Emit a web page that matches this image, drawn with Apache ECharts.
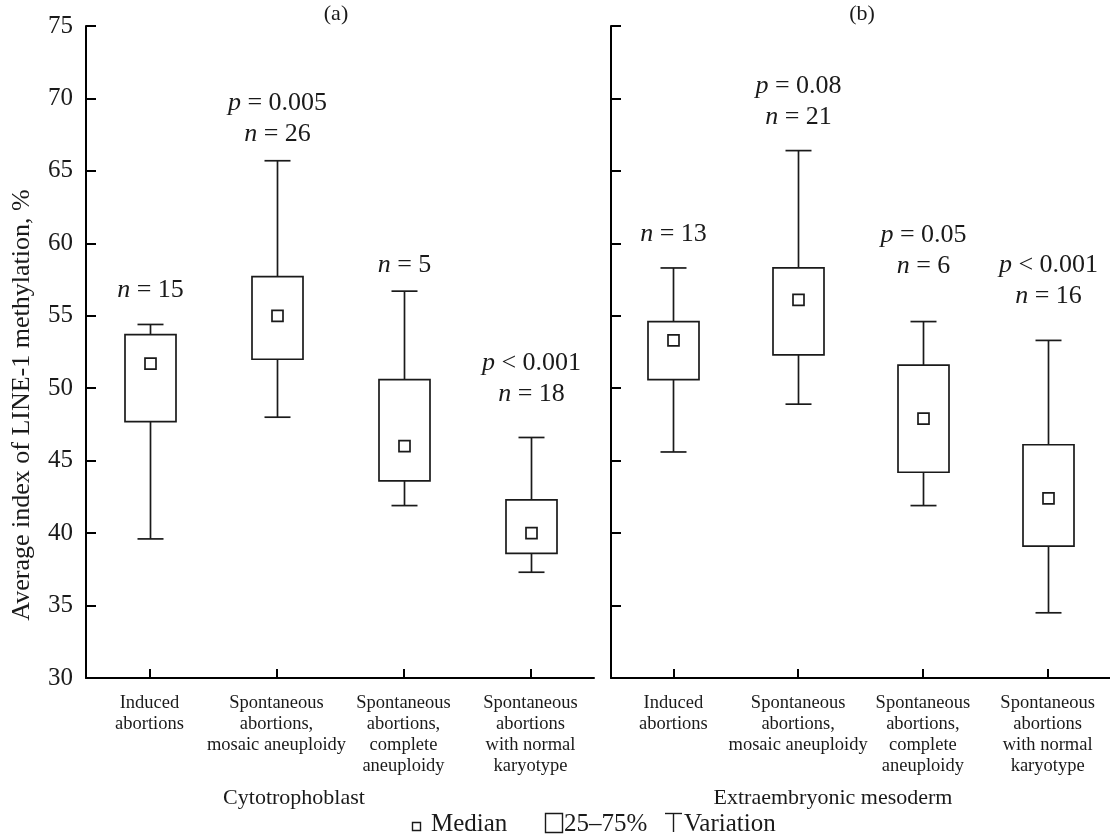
<!DOCTYPE html>
<html>
<head>
<meta charset="utf-8">
<script src="https://cdn.jsdelivr.net/npm/echarts@6/dist/echarts.min.js"></script>
<style>html,body{margin:0;padding:0;background:#fff}#c{width:1110px;height:839px}</style>
</head>
<body>
<div id="c"></div>
<script>
// ---- data ----
const categories = ['Induced\nabortions', 'Spontaneous\nabortions,\nmosaic aneuploidy', 'Spontaneous\nabortions,\ncomplete\naneuploidy', 'Spontaneous\nabortions\nwith normal\nkaryotype'];
// [low, q1, median, q3, high]
const cytoLow    = [39.6, 48.0, 41.9, 37.3];
const cytoQ1     = [47.7, 52.0, 43.6, 38.6];
const cytoMedian = [51.7, 55.0, 46.0, 40.0];
const cytoQ3     = [53.7, 57.7, 50.6, 42.3];
const cytoHigh   = [54.4, 65.7, 56.7, 46.6];
const cytoP = ['', '0.005', '', '< 0.001'];
const cytoN = [15, 26, 5, 18];

const mesoLow    = [45.6, 48.9, 41.9, 34.5];
const mesoQ1     = [50.6, 52.3, 44.2, 39.1];
const mesoMedian = [53.3, 56.1, 47.9, 42.4];
const mesoQ3     = [54.6, 58.3, 51.6, 46.1];
const mesoHigh   = [58.3, 66.4, 54.6, 53.3];
const mesoP = ['', '0.08', '0.05', '< 0.001'];
const mesoN = [13, 21, 6, 16];

const yTicks = [30, 35, 40, 45, 50, 55, 60, 65, 70, 75];
const panelTitles = ['(a)', '(b)'];
const panelNames = ['Cytotrophoblast', 'Extraembryonic mesoderm'];
const yName = 'Average index of LINE-1 methylation, %';

// ---- layout/style (not data) ----
const labelGapCyto = [34, 27, 26, 43];
const labelGapMeso = [34, 33, 55, 44];
const FONT = '"Liberation Serif", "Times New Roman", serif';
const INK = '#1a1a1a';

function rows(low, q1, med, q3, high) {
  return low.map((v, i) => [i, v, q1[i], med[i], q3[i], high[i]]);
}

function pText(p) {
  if (!p) return '';
  return p.charAt(0) === '<' ? '{i|p} ' + p : '{i|p} = ' + p;
}

function makeRender(pArr, nArr, gaps) {
  return function (params, api) {
    const i = api.value(0);
    const low = api.coord([i, api.value(1)]);
    const q1 = api.coord([i, api.value(2)]);
    const med = api.coord([i, api.value(3)]);
    const q3 = api.coord([i, api.value(4)]);
    const high = api.coord([i, api.value(5)]);
    const cx = Math.round(low[0]) + 0.5;
    const bw = 51, cw = 26, ms = 11;
    const ls = { stroke: INK, lineWidth: 1.7, fill: null };
    const t = pText(pArr[i]);
    const label = (t ? t + '\n' : '') + '{i|n} = ' + nArr[i];
    const lh = 31;
    const bottomY = high[1] - gaps[i] + lh / 2;
    return {
      type: 'group',
      children: [
        { type: 'line', shape: { x1: cx, y1: high[1], x2: cx, y2: q3[1] }, style: ls },
        { type: 'line', shape: { x1: cx, y1: q1[1], x2: cx, y2: low[1] }, style: ls },
        { type: 'line', shape: { x1: cx - cw / 2, y1: high[1], x2: cx + cw / 2, y2: high[1] }, style: ls },
        { type: 'line', shape: { x1: cx - cw / 2, y1: low[1], x2: cx + cw / 2, y2: low[1] }, style: ls },
        { type: 'rect', shape: { x: cx - bw / 2, y: q3[1], width: bw, height: q1[1] - q3[1] }, style: { stroke: INK, lineWidth: 1.7, fill: '#fff' } },
        { type: 'rect', shape: { x: cx - ms / 2, y: med[1] - ms / 2, width: ms, height: ms }, style: { stroke: INK, lineWidth: 1.7, fill: '#fff' } },
        { type: 'text', x: cx, y: bottomY, style: {
            text: label, align: 'center', verticalAlign: 'bottom',
            fontFamily: FONT, fontSize: 26, lineHeight: lh, fill: INK,
            rich: { i: { fontStyle: 'italic', fontFamily: FONT, fontSize: 26, lineHeight: lh, fill: INK } }
          } }
      ]
    };
  };
}

const axisLine = { show: true, lineStyle: { color: '#000', width: 2 } };
function xAxis(gi) {
  return {
    type: 'category', gridIndex: gi, data: categories, boundaryGap: true,
    axisLine: axisLine,
    axisTick: { show: true, inside: true, length: 9, alignWithLabel: true, lineStyle: { color: '#000', width: 2 } },
    axisLabel: { interval: 0, margin: 15, fontFamily: FONT, fontSize: 18.5, lineHeight: 21, color: INK, verticalAlign: 'top' },
    splitLine: { show: false }
  };
}
function yAxis(gi, showLabels) {
  return {
    type: 'value', gridIndex: gi, min: yTicks[0], max: yTicks[yTicks.length - 1], interval: 5,
    axisLine: axisLine,
    axisTick: { show: true, inside: true, length: 10, lineStyle: { color: '#000', width: 2 } },
    axisLabel: { show: showLabels, margin: 13, fontFamily: FONT, fontSize: 25, color: INK },
    splitLine: { show: false }
  };
}

const chart = echarts.init(document.getElementById('c'), null, { renderer: 'canvas' });
chart.setOption({
  animation: false,
  backgroundColor: '#fff',
  grid: [
    { left: 86, top: 26, width: 508, height: 652 },
    { left: 611, top: 26, width: 510, height: 652 }
  ],
  xAxis: [xAxis(0), xAxis(1)],
  yAxis: [yAxis(0, true), yAxis(1, false)],
  series: [
    { type: 'custom', xAxisIndex: 0, yAxisIndex: 0, clip: false,
      renderItem: makeRender(cytoP, cytoN, labelGapCyto),
      data: rows(cytoLow, cytoQ1, cytoMedian, cytoQ3, cytoHigh) },
    { type: 'custom', xAxisIndex: 1, yAxisIndex: 1, clip: false,
      renderItem: makeRender(mesoP, mesoN, labelGapMeso),
      data: rows(mesoLow, mesoQ1, mesoMedian, mesoQ3, mesoHigh) }
  ],
  graphic: [
    { type: 'text', x: 336, y: 14, style: { text: panelTitles[0], fontFamily: FONT, fontSize: 22, fill: INK, align: 'center', verticalAlign: 'middle' } },
    { type: 'text', x: 862, y: 14, style: { text: panelTitles[1], fontFamily: FONT, fontSize: 22, fill: INK, align: 'center', verticalAlign: 'middle' } },
    { type: 'text', x: 294, y: 798, style: { text: panelNames[0], fontFamily: FONT, fontSize: 22, fill: INK, align: 'center', verticalAlign: 'middle' } },
    { type: 'text', x: 833, y: 798, style: { text: panelNames[1], fontFamily: FONT, fontSize: 22, fill: INK, align: 'center', verticalAlign: 'middle' } },
    { type: 'text', x: 22, y: 405, rotation: Math.PI / 2, style: { text: yName, fontFamily: FONT, fontSize: 26, fill: INK, align: 'center', verticalAlign: 'middle' } },
    // legend
    { type: 'rect', shape: { x: 412.5, y: 822.5, width: 8, height: 8 }, style: { stroke: INK, lineWidth: 1.4, fill: '#fff' } },
    { type: 'text', x: 431, y: 824, style: { text: 'Median', fontFamily: FONT, fontSize: 25, fill: INK, align: 'left', verticalAlign: 'middle' } },
    { type: 'rect', shape: { x: 545.5, y: 813.5, width: 17, height: 19 }, style: { stroke: INK, lineWidth: 1.4, fill: '#fff' } },
    { type: 'text', x: 564, y: 824, style: { text: '25–75%', fontFamily: FONT, fontSize: 25, fill: INK, align: 'left', verticalAlign: 'middle' } },
    { type: 'line', shape: { x1: 665, y1: 813.5, x2: 682, y2: 813.5 }, style: { stroke: INK, lineWidth: 1.4 } },
    { type: 'line', shape: { x1: 673.5, y1: 813.5, x2: 673.5, y2: 832 }, style: { stroke: INK, lineWidth: 1.4 } },
    { type: 'text', x: 684, y: 824, style: { text: 'Variation', fontFamily: FONT, fontSize: 25, fill: INK, align: 'left', verticalAlign: 'middle' } }
  ]
});
</script>
</body>
</html>
